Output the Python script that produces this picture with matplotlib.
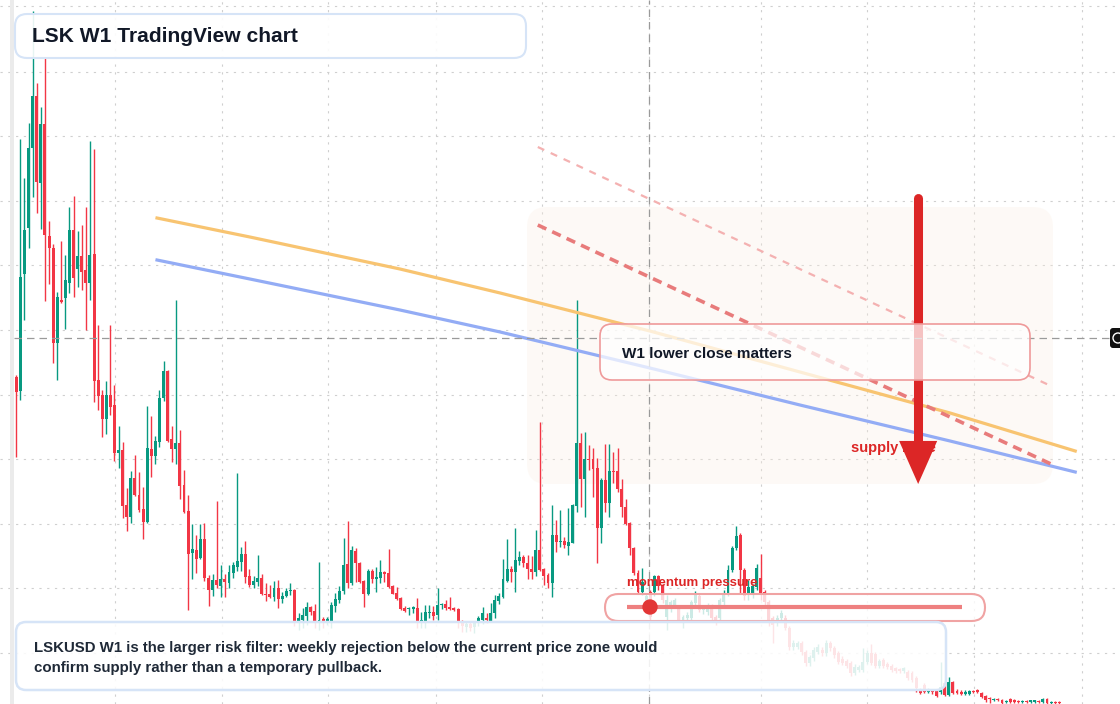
import matplotlib.pyplot as plt
import numpy as np
from matplotlib.patches import FancyBboxPatch, Rectangle, Circle
from matplotlib.transforms import Affine2D

plt.rcParams["font.family"] = ["Liberation Sans", "DejaVu Sans"]

# weekly LSK candles, oldest first (price units of the chart)
opens = [
    327, 313, 430, 476, 556, 608, 521, 580, 468, 456,
    361, 404, 406, 421, 474, 435, 448, 434, 421, 450,
    324, 309, 285, 309, 299, 251, 254, 199, 187, 226,
    209, 195, 182, 255, 248, 262, 306, 333, 265, 255,
    261, 219, 193, 151, 154, 146, 165, 126, 114, 124,
    118, 125, 121, 131, 137, 142, 150, 128, 119, 122,
    126, 110, 110, 107, 116, 105, 108, 113, 114, 83,
    84, 88, 97, 93, 82, 85, 83, 82, 98, 104,
    113, 140, 121, 153, 141, 123, 110, 133, 125, 126,
    132, 131, 118, 111, 106, 96, 95, 95, 96, 82,
    82, 91, 92, 89, 99, 100, 97, 96, 95, 82,
    77, 80, 77, 83, 84, 86, 83, 91, 103, 107,
    123, 135, 132, 143, 147, 141, 135, 132, 154, 135,
    129, 121, 169, 162, 163, 158, 161, 198, 261, 225,
    245, 245, 236, 176, 224, 201, 233, 233, 215, 197,
    181, 156, 131, 112, 104, 112, 112, 128, 119, 87,
    96, 99, 96, 84, 86, 86, 101, 108, 94, 92,
    98, 87, 86, 102, 111, 134, 156, 169, 134, 109,
    109, 117, 126, 112, 102, 86, 81, 86, 86, 76,
    57, 57, 61, 52, 41, 46, 52, 54, 51, 61,
    56, 51, 45, 43, 41, 31, 34, 34, 42, 51,
    50, 38, 44, 40, 38, 36, 35, 33, 32, 31,
    26, 14, 19, 12, 14, 14, 12, 21, 9, 22,
    13, 12, 10, 10, 13, 14, 11, 8, 6, 4,
    5, 4, 2, 5, 4, 3, 2, 3, 2, 2,
    3, 2, 5, 1, 2, 2,
]
highs = [
    329, 565, 526, 581, 693, 621, 597, 647, 483, 460,
    412, 463, 449, 497, 508, 473, 479, 497, 563, 555,
    379, 314, 323, 379, 319, 278, 262, 216, 233, 249,
    232, 217, 298, 288, 268, 314, 343, 334, 278, 404,
    274, 234, 209, 180, 169, 180, 181, 129, 130, 203,
    139, 130, 139, 142, 231, 157, 163, 135, 128, 149,
    130, 121, 119, 123, 124, 112, 116, 121, 115, 91,
    96, 102, 98, 100, 142, 87, 87, 102, 111, 118,
    166, 183, 158, 156, 142, 124, 135, 135, 137, 144,
    133, 155, 119, 117, 107, 98, 97, 98, 106, 92,
    99, 99, 98, 116, 101, 104, 107, 97, 96, 84,
    82, 83, 83, 88, 97, 91, 101, 109, 111, 145,
    165, 138, 176, 153, 149, 149, 148, 174, 282, 136,
    131, 199, 184, 194, 167, 196, 200, 404, 271, 272,
    259, 256, 246, 226, 260, 260, 252, 256, 225, 205,
    182, 157, 134, 136, 110, 114, 129, 129, 120, 109,
    104, 106, 98, 89, 92, 104, 113, 110, 99, 101,
    100, 89, 106, 114, 139, 158, 178, 171, 136, 124,
    120, 140, 150, 114, 104, 88, 89, 94, 89, 78,
    64, 63, 63, 54, 49, 57, 60, 57, 64, 63,
    58, 53, 48, 45, 43, 40, 39, 56, 54, 60,
    52, 45, 46, 42, 40, 37, 36, 37, 34, 33,
    28, 16, 21, 16, 15, 15, 42, 23, 27, 23,
    15, 14, 14, 14, 14, 15, 12, 9, 7, 6,
    6, 5, 4, 6, 5, 4, 4, 4, 4, 4,
    4, 6, 6, 3, 3, 3,
]
lows = [
    247, 304, 384, 456, 507, 491, 475, 403, 420, 341,
    324, 401, 375, 411, 407, 417, 414, 374, 404, 302,
    294, 267, 270, 289, 243, 236, 186, 173, 181, 208,
    192, 165, 181, 227, 240, 257, 303, 262, 242, 240,
    205, 191, 94, 125, 131, 145, 123, 98, 108, 116,
    107, 107, 116, 126, 133, 133, 121, 117, 116, 118,
    109, 103, 106, 103, 96, 101, 107, 109, 78, 74,
    76, 79, 89, 76, 74, 76, 79, 76, 92, 101,
    110, 116, 119, 122, 121, 97, 109, 121, 112, 121,
    122, 116, 110, 104, 94, 92, 89, 91, 76, 76,
    76, 86, 84, 84, 95, 94, 94, 93, 76, 72,
    72, 73, 71, 78, 80, 81, 82, 86, 100, 106,
    122, 122, 112, 139, 137, 125, 125, 128, 133, 119,
    116, 107, 152, 157, 156, 149, 161, 192, 197, 187,
    234, 207, 141, 161, 192, 187, 221, 212, 187, 179,
    149, 129, 111, 109, 94, 84, 108, 114, 101, 74,
    92, 96, 82, 76, 83, 84, 98, 92, 90, 89,
    84, 79, 83, 99, 108, 132, 154, 111, 104, 104,
    106, 114, 104, 99, 78, 61, 78, 84, 74, 54,
    54, 55, 49, 38, 38, 43, 50, 48, 48, 53,
    46, 40, 39, 36, 28, 29, 32, 32, 40, 39,
    36, 36, 36, 35, 32, 31, 31, 31, 24, 22,
    12, 10, 11, 11, 10, 7, 10, 8, 8, 10,
    10, 9, 9, 9, 11, 11, 6, 2, 1, 3,
    3, 0, 1, 1, 1, 1, 1, 1, 1, 1,
    1, 1, 0, 0, 0, 0,
]
closes = [
    312, 427, 474, 556, 608, 522, 580, 469, 456, 361,
    407, 402, 424, 474, 426, 448, 432, 421, 449, 323,
    308, 285, 309, 297, 251, 254, 198, 187, 226, 209,
    194, 182, 256, 248, 263, 306, 333, 263, 255, 261,
    218, 192, 150, 155, 145, 165, 126, 114, 124, 119,
    125, 122, 132, 139, 143, 150, 127, 119, 123, 126,
    110, 109, 107, 116, 105, 108, 113, 114, 83, 86,
    89, 97, 92, 83, 84, 83, 85, 99, 105, 113,
    139, 121, 154, 141, 122, 110, 133, 125, 127, 132,
    130, 117, 110, 105, 95, 93, 96, 97, 83, 84,
    92, 92, 88, 99, 100, 96, 95, 94, 82, 78,
    80, 76, 81, 86, 91, 84, 91, 104, 108, 125,
    135, 132, 144, 147, 141, 135, 132, 154, 134, 128,
    121, 169, 162, 163, 159, 162, 199, 261, 225, 245,
    244, 235, 176, 224, 201, 233, 232, 215, 197, 180,
    156, 131, 112, 122, 108, 87, 128, 118, 104, 104,
    102, 104, 84, 87, 89, 102, 109, 94, 96, 98,
    86, 82, 104, 109, 134, 156, 168, 134, 108, 117,
    118, 136, 111, 102, 81, 79, 86, 91, 76, 57,
    61, 61, 52, 41, 47, 54, 57, 51, 61, 56,
    49, 42, 41, 38, 31, 37, 37, 42, 51, 41,
    38, 43, 38, 37, 34, 33, 33, 36, 26, 24,
    16, 11, 12, 14, 12, 8, 17, 9, 22, 11,
    11, 10, 12, 13, 12, 12, 7, 4, 5, 5,
    4, 1, 3, 2, 2, 2, 3, 2, 4, 4,
    2, 5, 1, 2, 1, 1,
]

# moving-average overlays (candle index, value)
ema_fast_idx = [34.4, 57.1, 93.8, 118.3, 154.9, 191.6, 228.3, 258.9]
ema_fast_val = [486, 467, 435, 411, 373, 332, 291, 253]
ema_slow_idx = [34.4, 57.1, 93.8, 118.3, 154.9, 191.6, 228.3, 258.9]
ema_slow_val = [444, 425, 394, 372, 336, 299, 263, 232]

# hand drawn descending channel
channel_idx = [127.5, 253.5]
channel_lower = [479, 239]
channel_upper = [557, 317]

# down arrow over supply zone
arrow_idx = 220.5
arrow_from = 506
arrow_to = 220
arrow_shaft_end = 250

# crosshair position
cross_idx = 154.7
cross_price = 366

# date / price grid
grid_idx = [24.1, 50.3, 76.2, 102.6, 128.5, 154.7, 182.1, 208.0, 234.2, 260.6]
grid_price = [698, 632, 568, 503, 439, 374, 309, 245, 180, 116, 51]

title = "LSK W1 TradingView chart"
note_box = "W1 lower close matters"
summary_lines = [
    "LSKUSD W1 is the larger risk filter: weekly rejection below the current price zone would",
    "confirm supply rather than a temporary pullback.",
]

GREEN = "#089981"
RED = "#f23645"

fig = plt.figure(figsize=(11.2, 7.04), dpi=100)
ax = fig.add_axes([0, 0, 1, 1])
ax.set_xlim(-3.99, 269.85)
ax.set_ylim(0, 704)
ax.axis("off")

# pixel transform (x right, y down) for layout boxes
px = Affine2D().scale(1 / 100, -1 / 100).translate(0, 7.04) + fig.dpi_scale_trans

for g in grid_idx:
    ax.axvline(g, color="#cfcfcf", lw=0.8, ls=(0, (2, 5)), zorder=0.5)
for g in grid_price:
    ax.axhline(g, color="#cfcfcf", lw=0.8, ls=(0, (2, 5)), zorder=0.5)

ax.add_patch(Rectangle((10, 0), 4, 704, transform=px, color="#ebebeb", lw=0, zorder=1, clip_on=False))

# faint supply zone
ax.add_patch(FancyBboxPatch((527, 207), 526, 277, boxstyle="round,pad=0,rounding_size=20",
                            transform=px, fc="#fbeee2", ec="none", alpha=0.3, zorder=0.8))

# candles
o = np.array(opens)
c = np.array(closes)
h = np.array(highs)
l = np.array(lows)
x = np.arange(len(o))
cols = np.where(c >= o, GREEN, RED)
ax.vlines(x, l, h, colors=cols, lw=1.0, zorder=2)
ax.bar(x, np.maximum(np.abs(c - o), 1.2), bottom=np.minimum(o, c), width=0.72,
       color=cols, lw=0, zorder=2.5)

# overlays
ax.plot(ema_fast_idx, ema_fast_val, color="#f8c471", lw=2.3, zorder=3.4)
ax.plot(ema_slow_idx, ema_slow_val, color="#93acf5", lw=2.3, zorder=3.4)
ax.plot(channel_idx, channel_upper, color="#f4b1b1", lw=1.6, ls=(0, (3.2, 3.2)), zorder=3.5)
ax.plot(channel_idx, channel_lower, color="#e87b7b", lw=2.6, ls=(0, (2.6, 1.8)), zorder=3.5)

ax.text(851, 448, "supply zone", transform=px, color="#dc2626", fontsize=10.5,
        fontweight="bold", va="center", ha="left", zorder=4)

# arrow: round-capped shaft plus a sharp filled head
ax.plot([arrow_idx, arrow_idx], [arrow_from, arrow_shaft_end], color="#dc2626", lw=6.5,
        solid_capstyle="round", zorder=4.5)
ax.annotate("", xy=(arrow_idx, arrow_to), xytext=(arrow_idx, arrow_from),
            arrowprops=dict(arrowstyle="-|>,head_length=31,head_width=13.7", mutation_scale=1,
                            lw=0, color="#dc2626", shrinkA=0, shrinkB=0),
            zorder=4.5)

# crosshair
ax.axhline(cross_price, xmin=14 / 1120, xmax=1110 / 1120, color="#9a9a9a", lw=0.9,
           ls=(0, (6, 4)), zorder=4.8)
ax.axvline(cross_idx, color="#9a9a9a", lw=0.9, ls=(0, (6, 4)), zorder=4.8)
ax.add_patch(FancyBboxPatch((1110, 328), 14, 20, boxstyle="round,pad=0,rounding_size=3",
                            transform=px, fc="#111111", ec="none", zorder=7, clip_on=False))
ax.add_patch(Circle((1118, 338), 5, transform=px, fill=False, ec="white", lw=1, zorder=7.5,
                    clip_on=False))

# annotation boxes
ax.add_patch(FancyBboxPatch((15, 14), 511, 44, boxstyle="round,pad=0,rounding_size=12",
                            transform=px, fc=(1, 1, 1, 0.9), ec="#d6e4f7", lw=1.5, zorder=5))
ax.text(32, 36, title, transform=px, fontsize=15.1, fontweight="bold", color="#111827",
        va="center", ha="left", zorder=6)

ax.add_patch(FancyBboxPatch((600, 324), 430, 56, boxstyle="round,pad=0,rounding_size=12",
                            transform=px, fc=(1, 1, 1, 0.72), ec="#ef9a9a", lw=1.2, zorder=5))
ax.text(622, 354, note_box, transform=px, fontsize=11, fontweight="bold", color="#111827",
        va="center", ha="left", zorder=6)

ax.add_patch(FancyBboxPatch((605, 594), 380, 27, boxstyle="round,pad=0,rounding_size=13.5",
                            transform=px, fc=(1, 1, 1, 0.8), ec="#f0a3a3", lw=1.5, zorder=5))
ax.plot([627, 962], [607, 607], transform=px, color="#ee8080", lw=3, solid_capstyle="butt",
        zorder=5.5)
ax.add_patch(Circle((650, 607), 7, transform=px, color="#e23636", zorder=5.6))
ax.text(627, 583, "momentum pressure", transform=px, fontsize=9.5, fontweight="bold",
        color="#dc2626", va="center", ha="left", zorder=6)

ax.add_patch(FancyBboxPatch((16, 622), 930, 68, boxstyle="round,pad=0,rounding_size=10",
                            transform=px, fc=(1, 1, 1, 0.87), ec="#d6e4f7", lw=1.8, zorder=5))
for i, line in enumerate(summary_lines):
    ax.text(34, 648 + 20 * i, line, transform=px, fontsize=10.8, fontweight="bold",
            color="#1f2937", va="center", ha="left", zorder=6)

fig.savefig("out.png", dpi=100)
